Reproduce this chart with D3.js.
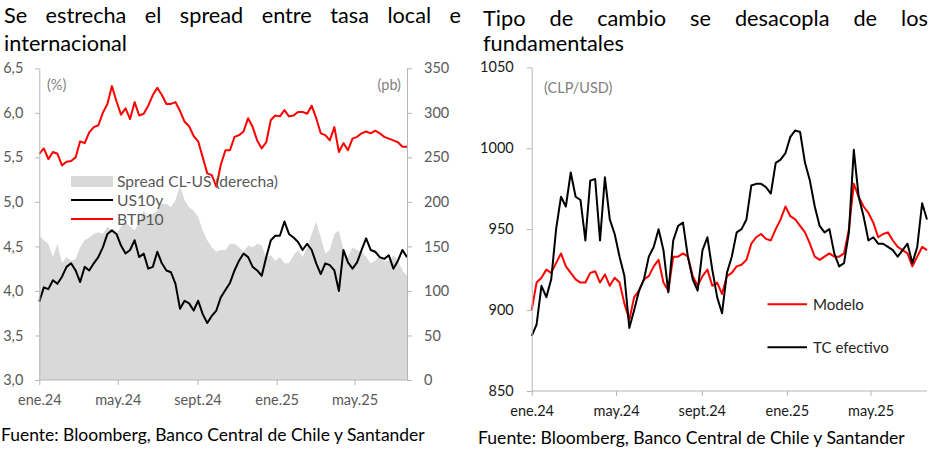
<!DOCTYPE html>
<html><head><meta charset="utf-8">
<script src="https://cdn.jsdelivr.net/npm/d3@7"></script>
<style>
html,body{margin:0;padding:0;background:#fff;}
svg{display:block;font-family:Lato,"Open Sans",sans-serif;}
</style></head>
<body><svg id="c" width="933" height="458"></svg>
<script>
// ---------- data (weekly observations starting 1 Jan 2024) ----------
const startDate = new Date(2024, 0, 1);
const btp10 = [5.54,5.60,5.48,5.56,5.54,5.41,5.45,5.46,5.50,5.68,5.66,5.78,5.84,5.86,6.00,6.10,6.30,6.13,5.98,6.05,5.93,6.12,5.97,5.99,6.08,6.20,6.28,6.20,6.10,6.10,6.12,6.02,5.90,5.85,5.74,5.68,5.50,5.32,5.30,5.17,5.42,5.58,
  5.58,5.73,5.75,5.79,5.94,5.84,5.69,5.60,5.67,5.92,5.97,5.96,6.03,5.96,5.97,6.01,6.01,5.99,6.08,5.94,5.77,5.75,5.69,5.84,5.56,5.66,5.58,5.71,5.73,5.77,5.79,5.77,5.80,5.77,5.73,5.71,5.69,5.67,5.62,5.62];
const us10y = [3.88,4.04,4.02,4.12,4.08,4.16,4.27,4.31,4.23,4.10,4.27,4.23,4.31,4.38,4.49,4.64,4.68,4.64,4.51,4.42,4.46,4.57,4.38,4.42,4.25,4.27,4.44,4.31,4.23,4.21,4.08,3.80,3.89,3.86,3.78,3.89,3.74,3.64,3.72,3.78,3.93,4.01,
  4.09,4.23,4.34,4.42,4.38,4.27,4.23,4.17,4.38,4.57,4.62,4.62,4.78,4.64,4.60,4.55,4.46,4.53,4.46,4.31,4.19,4.31,4.29,4.23,4.00,4.46,4.32,4.25,4.32,4.46,4.59,4.46,4.44,4.38,4.36,4.40,4.25,4.34,4.46,4.38];
const spreadClUs = [162,157,153,138,153,131,138,134,136,149,157,160,164,166,164,172,168,164,172,177,172,168,177,190,183,187,190,198,198,194,202,218,202,194,190,183,168,157,149,144,146,146,
  153,153,149,144,151,149,153,151,138,140,134,138,131,131,140,146,138,149,164,178,160,142,146,164,168,146,138,149,146,144,138,131,134,140,133,134,140,134,123,117];
const tcEfectivo = [884,891,915,908,919,950,970,964,985,970,968,943,980,981,943,982,956,947,933,921,889,900,912,919,933,939,950,937,911,943,952,954,933,919,912,937,945,925,908,898,923,933,
  948,950,956,977,978,978,976,972,991,993,997,1007,1011,1010,991,980,964,952,948,950,935,927,929,948,999,970,958,943,945,941,941,939,937,933,937,941,929,939,966,956];
const modelo = [900,917,920,925,923,929,935,927,923,919,917,917,923,924,917,922,915,920,917,904,894,908,912,919,921,927,931,917,912,933,933,935,933,921,915,921,925,915,917,910,921,923,
  927,928,931,941,945,947,944,943,950,956,964,958,956,952,948,941,933,931,933,935,933,933,935,950,978,970,964,960,954,945,947,948,943,939,937,935,927,933,939,937];
const xTickDates = [new Date(2024,0,1), new Date(2024,4,1), new Date(2024,8,1), new Date(2025,0,1), new Date(2025,4,1)];
const xTickLabels = ["ene.24","may.24","sept.24","ene.25","may.25"];
const leftTicks = [3.0,3.5,4.0,4.5,5.0,5.5,6.0,6.5];
const rightTicks = [0,50,100,150,200,250,300,350];
const fxTicks = [850,900,950,1000,1050];

const dates = btp10.map((_, i) => d3.timeDay.offset(startDate, 7 * i));

const svg = d3.select("#c");
svg.append("rect").attr("width",933).attr("height",458).attr("fill","#fff");
const AXIS = "#b5b5b5";

function fit(sel, targetW) {
  const w = sel.node().getComputedTextLength();
  const fs = parseFloat(sel.style("font-size"));
  sel.style("font-size", (fs * targetW / w) + "px");
}
function justify(words, x0, x1, y, size) {
  const g = svg.append("g");
  const ts = words.map(w => g.append("text").text(w).attr("y", y).style("font-size", size + "px").attr("fill", "#000"));
  const widths = ts.map(t => t.node().getComputedTextLength());
  const gap = (x1 - x0 - d3.sum(widths)) / (words.length - 1);
  let x = x0;
  ts.forEach((t, i) => { t.attr("x", x); x += widths[i] + gap; });
}
function titleSize(word, targetW) {
  const t = svg.append("text").text(word).style("font-size", "20px");
  const w = t.node().getComputedTextLength(); t.remove();
  return 20 * targetW / w;
}

// ---------- titles ----------
const s1 = titleSize("internacional", 123);
justify("Se estrecha el spread entre tasa local e".split(" "), 4, 461, 23, s1);
svg.append("text").attr("x", 4).attr("y", 51).style("font-size", s1 + "px").text("internacional");
const s2 = titleSize("fundamentales", 141);
justify("Tipo de cambio se desacopla de los".split(" "), 483, 928, 26, s2);
svg.append("text").attr("x", 483).attr("y", 51).style("font-size", s2 + "px").text("fundamentales");

// ---------- left chart ----------
const xL = d3.scaleTime().domain([dates[0], dates[dates.length - 1]]).range([39.3, 407]);
const yL = d3.scaleLinear().domain([3.0, 6.5]).range([380, 68.3]);
const yR = d3.scaleLinear().domain([0, 350]).range([380, 68.3]);

const gL = svg.append("g");
gL.append("path").datum(spreadClUs)
  .attr("d", d3.area().x((d, i) => xL(dates[i])).y0(yR(0)).y1(d => yR(d)))
  .attr("fill", "#d9d9d9");
gL.append("path").datum(us10y)
  .attr("d", d3.line().x((d, i) => xL(dates[i])).y(d => yL(d)))
  .attr("fill", "none").attr("stroke", "#000").attr("stroke-width", 2).attr("stroke-linejoin", "round");
gL.append("path").datum(btp10)
  .attr("d", d3.line().x((d, i) => xL(dates[i])).y(d => yL(d)))
  .attr("fill", "none").attr("stroke", "#ff0000").attr("stroke-width", 2).attr("stroke-linejoin", "round");

function styleAxis(g, color) {
  g.selectAll("path.domain").attr("stroke", AXIS);
  g.selectAll(".tick line").attr("stroke", AXIS);
  g.selectAll(".tick text").attr("fill", color).style("font-family", "Lato,'Open Sans',sans-serif").style("font-size", "14.5px");
}
const axL = gL.append("g").attr("transform", "translate(39.3,0)")
  .call(d3.axisLeft(yL).tickValues(leftTicks).tickSize(4).tickSizeOuter(0).tickPadding(12)
    .tickFormat(d => d.toFixed(1).replace(".", ",")));
styleAxis(axL, "#595959");
const axR = gL.append("g").attr("transform", "translate(407,0)")
  .call(d3.axisRight(yR).tickValues(rightTicks).tickSize(5).tickSizeOuter(0).tickPadding(12)
    .tickFormat(d3.format("d")));
styleAxis(axR, "#595959");
const axB = gL.append("g").attr("transform", "translate(0,380)")
  .call(d3.axisBottom(xL).tickValues(xTickDates).tickSize(5).tickSizeOuter(0).tickPadding(10)
    .tickFormat((d, i) => xTickLabels[i]));
styleAxis(axB, "#595959");
axB.select("path.domain").attr("d", `M${xL.range()[0]},0H${xL.range()[1]}`);

gL.append("text").attr("x", 47).attr("y", 90).attr("fill", "#7f7f7f").style("font-size", "14.5px").text("(%)");
gL.append("text").attr("x", 401).attr("y", 90).attr("text-anchor", "end").attr("fill", "#7f7f7f").style("font-size", "14.5px").text("(pb)");

// legend left
gL.append("rect").attr("x", 71).attr("y", 176).attr("width", 42).attr("height", 11).attr("fill", "#d9d9d9");
gL.append("line").attr("x1", 71).attr("x2", 113).attr("y1", 200).attr("y2", 200).attr("stroke", "#000").attr("stroke-width", 2);
gL.append("line").attr("x1", 71).attr("x2", 113).attr("y1", 219).attr("y2", 219).attr("stroke", "#ff0000").attr("stroke-width", 2);
const lt1 = gL.append("text").attr("x", 117).attr("y", 186.5).attr("fill", "#595959").style("font-size", "15px").text("Spread CL-US (derecha)");
fit(lt1, 161);
const lfs = lt1.style("font-size");
gL.append("text").attr("x", 117).attr("y", 205.5).attr("fill", "#595959").style("font-size", lfs).text("US10y");
gL.append("text").attr("x", 117).attr("y", 224.5).attr("fill", "#595959").style("font-size", lfs).text("BTP10");

// ---------- right chart ----------
const xF = d3.scaleTime().domain([dates[0], dates[dates.length - 1]]).range([531.7, 927]);
const yF = d3.scaleLinear().domain([850, 1050]).range([391, 67.3]);
const gR = svg.append("g");
gR.append("path").datum(modelo)
  .attr("d", d3.line().x((d, i) => xF(dates[i])).y(d => yF(d)))
  .attr("fill", "none").attr("stroke", "#ff0000").attr("stroke-width", 2).attr("stroke-linejoin", "round");
gR.append("path").datum(tcEfectivo)
  .attr("d", d3.line().x((d, i) => xF(dates[i])).y(d => yF(d)))
  .attr("fill", "none").attr("stroke", "#000").attr("stroke-width", 2).attr("stroke-linejoin", "round");
const axF = gR.append("g").attr("transform", "translate(531.7,0)")
  .call(d3.axisLeft(yF).tickValues(fxTicks).tickSize(5).tickSizeOuter(0).tickPadding(13)
    .tickFormat(d3.format("d")));
styleAxis(axF, "#1a1a1a");
const axFB = gR.append("g").attr("transform", "translate(0,391)")
  .call(d3.axisBottom(xF).tickValues(xTickDates).tickSize(5).tickSizeOuter(0).tickPadding(10)
    .tickFormat((d, i) => xTickLabels[i]));
styleAxis(axFB, "#1a1a1a");
axFB.select("path.domain").attr("d", `M${xF.range()[0]},0H${xF.range()[1]}`);
gR.append("text").attr("x", 544).attr("y", 93).attr("fill", "#7f7f7f").style("font-size", "14.5px").text("(CLP/USD)");

// legend right
gR.append("line").attr("x1", 767.5).attr("x2", 807).attr("y1", 304.3).attr("y2", 304.3).attr("stroke", "#ff0000").attr("stroke-width", 2);
gR.append("line").attr("x1", 767.5).attr("x2", 807).attr("y1", 347.3).attr("y2", 347.3).attr("stroke", "#000").attr("stroke-width", 2);
const rt1 = gR.append("text").attr("x", 813).attr("y", 309.5).attr("fill", "#262626").style("font-size", "15px").text("TC efectivo");
fit(rt1, 76);
rt1.attr("y", 352.5);
gR.append("text").attr("x", 813).attr("y", 309.5).attr("fill", "#262626").style("font-size", rt1.style("font-size")).text("Modelo");

// ---------- sources ----------
const src1 = svg.append("text").attr("x", 1).attr("y", 441).attr("fill", "#000").style("font-size", "16px")
  .text("Fuente: Bloomberg, Banco Central de Chile y Santander");
fit(src1, 424);
const src2 = svg.append("text").attr("x", 478).attr("y", 444).attr("fill", "#000").style("font-size", "16px")
  .text("Fuente: Bloomberg, Banco Central de Chile y Santander");
fit(src2, 427);
</script></body></html>
